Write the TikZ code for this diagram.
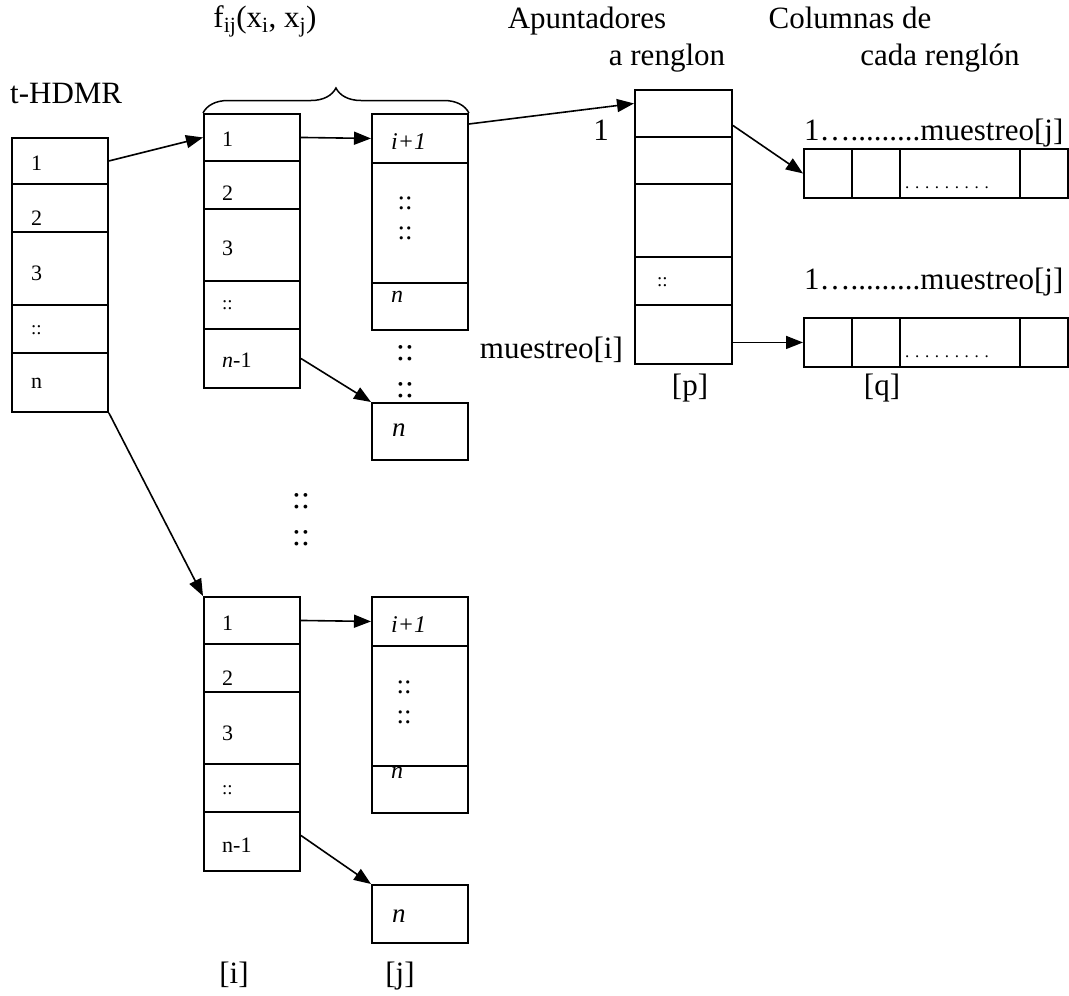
\documentclass[tikz,border=0pt]{standalone}
\usepackage{fontspec}
\setmainfont{Liberation Serif}
\usetikzlibrary{arrows.meta,decorations.pathreplacing}

\begin{document}
\begin{tikzpicture}[x=1pt, y=-1pt,
    cell/.style={draw, line width=1.9pt, inner sep=0pt, anchor=north west, minimum width=96pt},
    txt/.style={inner sep=0pt, anchor=west, font=\fontsize{22}{22}\selectfont},
    dots/.style={inner sep=0pt, font=\fontsize{#1}{#1}\selectfont},
    big/.style={inner sep=0pt, font=\fontsize{31}{31}\selectfont},
    ptr/.style={line width=1.6pt, -{Triangle[length=17pt,width=13pt]}}]
    \useasboundingbox (0,0) rectangle (1069,996);

    % t-HDMR table
    \node[big, anchor=base west] (thdmr) at (10,103) {t-HDMR};
    \foreach \n/\top/\h in {1/137/46, 2/183/48, 3/231/73, 4/304/48, 5/352/59}
        \node[cell, minimum height=\h pt] (H\n) at (11,\top) {};
    \node[txt] (h1) at (31,163) {1};
    \node[txt] (h2) at (31,218) {2};
    \node[txt] (h3) at (31,273) {3};
    \node[dots=19, anchor=west] (h4) at (31,330) {::};
    \node[txt] (h5) at (31,383) {n};

    % columns [i] and [j], upper (U) and lower (W)
    \foreach \s/\dy in {U/0, W/483} {
        \foreach \n/\top/\h in {1/113/47, 2/160/48, 3/208/72, 4/280/48, 5/328/59}
            \node[cell, minimum height=\h pt] (\s I\n) at (203,\top+\dy) {};
        \foreach \n/\top/\h in {1/113/49, 2/162/120, 3/282/47}
            \node[cell, minimum height=\h pt] (\s J\n) at (371,\top+\dy) {};
    }
    \node[cell, minimum height=57pt] (UJn) at (371,402) {};
    \node[cell, minimum height=58pt] (WJn) at (371,884) {};

    % labels, upper
    \node[big, anchor=base] (fij) at (265,27) {f\textsubscript{ij}(x\textsubscript{i}, x\textsubscript{j})};
    \draw[line width=1.5pt, decorate, decoration={brace, amplitude=25pt}] (UI1.north west) -- (UJ1.north east);
    \node[txt] at (222,139) {1};
    \node[txt] at (222,193) {2};
    \node[txt] at (222,248) {3};
    \node[dots=19, anchor=west] at (222,305) {::};
    \node[txt] at (222,360) {\textit{n}-1};
    \node[dots=24, anchor=west] at (391,142) {\textit{i+1}};
    \node[dots=27] at (405,203) {::};
    \node[dots=27] at (405,233) {::};
    \node[dots=24, anchor=west] at (391,297) {\textit{n}};
    \node[dots=32] at (405,353) {::};
    \node[dots=32] at (405,390) {::};
    \node[dots=27, anchor=west] at (392,430) {\textit{n}};

    \node[dots=32] at (301,501) {::};
    \node[dots=32] at (301,538) {::};

    % labels, lower
    \node[txt] at (222,623) {1};
    \node[txt] at (222,678) {2};
    \node[txt] at (222,733) {3};
    \node[dots=19, anchor=west] at (222,790) {::};
    \node[txt] at (222,845) {n-1};
    \node[dots=24, anchor=west] at (391,625) {\textit{i+1}};
    \node[dots=27] at (404,687) {::};
    \node[dots=27] at (404,717) {::};
    \node[dots=24, anchor=west] at (391,773) {\textit{n}};
    \node[dots=27, anchor=west] at (392,916) {\textit{n}};
    \node[big, anchor=base] (idx) at (234,983) {[i]};
    \node[big, anchor=base] (jdx) at (400,983) {[j]};

    % row pointers [p]
    \node[big, anchor=base] (apunt) at (587,28) {Apuntadores};
    \node[big, anchor=base] (aren) at (667,65) {a renglon};
    \foreach \n/\top/\h in {1/89/47, 2/136/47, 3/183/73, 4/256/48, 5/304/59}
        \node[cell, minimum width=97pt, minimum height=\h pt] (P\n) at (634,\top) {};
    \node[dots=19, anchor=west] at (657,282) {::};
    \node[big, anchor=base] (one) at (601,140) {1};
    \node[big, anchor=base east] (mi) at (623,358) {muestreo[i]};
    \node[big, anchor=base] (pdx) at (690,395) {[p]};

    % columns of each row [q]
    \node[big, anchor=base] (colum) at (850,28) {Columnas de};
    \node[big, anchor=base] (cada) at (940,65) {cada renglón};
    \foreach \r/\top/\base in {1/148/140, 2/317/289} {
        \node[cell, minimum width=48pt, minimum height=49pt] (Q\r a) at (803,\top) {};
        \node[cell, minimum width=48pt, minimum height=49pt] (Q\r b) at (851,\top) {};
        \node[cell, minimum width=120pt, minimum height=49pt] (Q\r c) at (899,\top) {};
        \node[cell, minimum width=48pt, minimum height=49pt] (Q\r d) at (1019,\top) {};
        \node[dots=17, anchor=base] at (947,\top+40) {. . . . . . . . .};
        \node[big, anchor=base west] at (804,\base) {1….........muestreo[j]};
    }
    \node[big, anchor=base] (qdx) at (882,395) {[q]};

    % pointers
    \draw[ptr] (H1.east) -- (UI1.west);
    \draw[ptr] (UI1.east) -- (UJ1.west);
    \draw[ptr] (UI5.east) -- (UJn.north west);
    \draw[ptr] (H5.south east) -- (WI1.north west);
    \draw[ptr] (WI1.east) -- (WJ1.west);
    \draw[ptr] ([yshift=6pt]WI5.east) -- (WJn.north west);
    \draw[ptr] ([yshift=-11pt]UJ1.north east) -- ([yshift=10pt]P1.west);
    \draw[ptr] ([yshift=-12pt]P1.east) -- (Q1a.west);
    \draw[ptr] (P5.east |- Q2a.west) -- (Q2a.west);
\end{tikzpicture}
\end{document}
